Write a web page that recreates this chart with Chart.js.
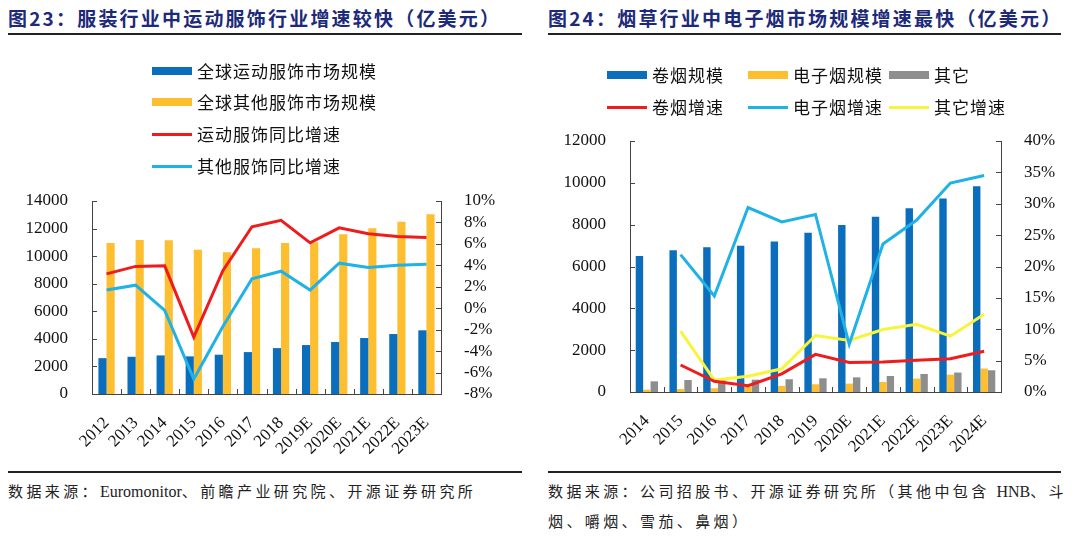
<!DOCTYPE html>
<html>
<head>
<meta charset="utf-8">
<script src="https://cdn.jsdelivr.net/npm/chart.js@4.4.1/dist/chart.umd.min.js"></script>
<style>
  body { margin: 0; width: 1080px; height: 541px; background: #fff; position: relative; overflow: hidden;
         font-family: 'Noto Sans CJK SC', sans-serif; }
  .title { position: absolute; top: 6px; font-size: 19px; font-weight: bold; color: #1d2a7a;
           letter-spacing: 2.2px; white-space: nowrap; line-height: 24px; }
  .rule { position: absolute; height: 2px; background: #222; }
  .src { position: absolute; font-size: 15px; color: #222; letter-spacing: 3.4px; white-space: nowrap; line-height: 20px; }
  .src b { font-weight: normal; font-family: 'Liberation Serif', serif; font-size: 16px; letter-spacing: 0; }
  canvas { position: absolute; top: 0; }
  .leg { position: absolute; font-size: 17px; color: #111; white-space: nowrap; line-height: 20px; letter-spacing: 1px; }
  .leg i { position: absolute; left: 0; width: 40px; }
  .leg span { padding-left: 45px; }
</style>
</head>
<body>

<div class="title" style="left:8px">图23：服装行业中运动服饰行业增速较快（亿美元）</div>
<div class="rule" style="left:8px;width:514px;top:33px"></div>
<div class="title" style="left:548px">图24：烟草行业中电子烟市场规模增速最快（亿美元）</div>
<div class="rule" style="left:548px;width:513px;top:33px"></div>

<canvas id="apparel" width="540" height="470" style="left:0"></canvas>
<canvas id="tobacco" width="540" height="470" style="left:540px"></canvas>

<div class="rule" style="left:8px;width:514px;top:471px"></div>
<div class="rule" style="left:548px;width:513px;top:471px"></div>
<div class="src" style="left:8px;top:481px">数据来源：<b>Euromonitor</b>、前瞻产业研究院、开源证券研究所</div>
<div class="src" style="left:548px;top:481px">数据来源：公司招股书、开源证券研究所（其他中包含 <b>HNB</b>、斗</div>
<div class="src" style="left:548px;top:511px">烟、嚼烟、雪茄、鼻烟）</div>

<script>
// ---- 图23 data ----
var years1 = ['2012', '2013', '2014', '2015', '2016', '2017', '2018', '2019E', '2020E', '2021E', '2022E', '2023E'];
var sportSize = [2600, 2700, 2800, 2730, 2850, 3040, 3330, 3550, 3770, 4060, 4350, 4620];
var otherSize = [10950, 11180, 11160, 10460, 10290, 10580, 10960, 11000, 11590, 12030, 12490, 13040];
var sportGrowth = [3.2, 3.9, 3.95, -2.7, 3.5, 7.6, 8.2, 6.1, 7.5, 6.95, 6.7, 6.6];
var otherGrowth = [1.7, 2.15, -0.2, -6.6, -1.7, 2.75, 3.45, 1.7, 4.2, 3.8, 4.0, 4.1];

// ---- 图24 data ----
var years2 = ['2014', '2015', '2016', '2017', '2018', '2019', '2020E', '2021E', '2022E', '2023E', '2024E'];
var cigSize = [6500, 6780, 6920, 6990, 7200, 7610, 7980, 8380, 8790, 9250, 9840];
var ecigSize = [110, 140, 180, 250, 290, 370, 400, 480, 640, 830, 1120];
var restSize = [510, 575, 580, 590, 610, 655, 700, 765, 860, 930, 1040];
var cigGrowth = [null, 4.3, 1.7, 1.0, 2.9, 6.0, 4.7, 4.8, 5.05, 5.3, 6.5];
var ecigGrowth = [null, 21.9, 15.3, 29.4, 27.1, 28.3, 7.6, 23.6, 27.4, 33.3, 34.5];
var restGrowth = [null, 9.7, 1.9, 2.5, 3.7, 9.0, 8.2, 9.95, 10.8, 8.9, 12.4];

var BLUE = '#0a6ebd', ORANGE = '#fdbe30', GRAY = '#8e8e8e';
var RED = '#ee1c1c', CYAN = '#1fb2e6', YELLOW = '#f7f43a';
var AXIS = '#444';
var SERIF = 'Liberation Serif, DejaVu Serif, serif';
var tickFont = { family: SERIF, size: 17 };

// short tick marks pointing into the plot
var innerTicks = {
	id: 'innerTicks',
	afterDraw: function (chart) {
		var ctx = chart.ctx, a = chart.chartArea;
		ctx.save();
		ctx.strokeStyle = AXIS;
		ctx.lineWidth = 1;
		ctx.beginPath();
		var y = chart.scales.y, y1 = chart.scales.y1, x = chart.scales.x;
		y.ticks.forEach(function (t, i) {
			var p = Math.round(y.getPixelForTick(i)) + 0.5;
			ctx.moveTo(a.left, p); ctx.lineTo(a.left + 5, p);
		});
		y1.ticks.forEach(function (t, i) {
			var p = Math.round(y1.getPixelForTick(i)) + 0.5;
			ctx.moveTo(a.right - 5, p); ctx.lineTo(a.right, p);
		});
		var n = x.ticks.length, step = (x.right - x.left) / n;
		for (var i = 0; i <= n; i++) {
			var px = Math.round(x.left + i * step) + 0.5;
			ctx.moveTo(px, a.bottom); ctx.lineTo(px, a.bottom - 5);
		}
		ctx.stroke();
		ctx.restore();
	}
};

function scalesFor(leftW, rightW, bottomH, yMax, yStep, y1Min, y1Max, y1Step) {
	return {
		x: {
			grid: { display: false },
			border: { display: true, color: AXIS, width: 1 },
			ticks: { font: { family: SERIF, size: 17 }, color: '#111', minRotation: 45, maxRotation: 45, padding: 11, autoSkip: false },
			afterFit: function (s) { s.height = bottomH; }
		},
		y: {
			position: 'left', min: 0, max: yMax,
			grid: { display: false },
			border: { display: true, color: AXIS, width: 1 },
			ticks: { stepSize: yStep, font: tickFont, color: '#111', padding: 16, autoSkip: false,
				callback: function (v) { return String(v); } },
			afterFit: function (s) { s.width = leftW; }
		},
		y1: {
			position: 'right', min: y1Min, max: y1Max,
			grid: { display: false },
			border: { display: true, color: AXIS, width: 1 },
			ticks: { stepSize: y1Step, font: tickFont, color: '#111', padding: 15, autoSkip: false,
				callback: function (v) { return v + '%'; } },
			afterFit: function (s) { s.width = rightW; }
		}
	};
}

function barSet(label, data, color, pct) {
	return { type: 'bar', label: label, data: data, backgroundColor: color, yAxisID: 'y', order: 2,
		categoryPercentage: pct, barPercentage: 1.0 };
}
function lineSet(label, data, color) {
	return { type: 'line', label: label, data: data, borderColor: color, backgroundColor: color,
		borderWidth: 3, pointRadius: 0, tension: 0, yAxisID: 'y1', order: 1 };
}

// legend drawn as html text, built from the chart's datasets
function buildLegend(chart, offsetX, slots) {
	chart.data.datasets.forEach(function (ds, i) {
		var el = document.createElement('div');
		el.className = 'leg';
		el.style.left = (offsetX + slots[i][0]) + 'px';
		el.style.top = (slots[i][1] - 10) + 'px';
		var mark = document.createElement('i');
		var h = ds.type === 'line' ? 3 : 8;
		mark.style.height = h + 'px';
		mark.style.top = (10 - h / 2) + 'px';
		mark.style.background = ds.type === 'line' ? ds.borderColor : ds.backgroundColor;
		var txt = document.createElement('span');
		txt.textContent = ds.label;
		el.appendChild(mark);
		el.appendChild(txt);
		document.body.appendChild(el);
	});
}

var chart1 = new Chart(document.getElementById('apparel').getContext('2d'), {
	data: {
		labels: years1,
		datasets: [
			barSet('全球运动服饰市场规模', sportSize, BLUE, 0.56),
			barSet('全球其他服饰市场规模', otherSize, ORANGE, 0.56),
			lineSet('运动服饰同比增速', sportGrowth, RED),
			lineSet('其他服饰同比增速', otherGrowth, CYAN)
		]
	},
	options: {
		responsive: false, animation: false, devicePixelRatio: 1,
		layout: { padding: { top: 201, left: 0, right: 0, bottom: 0 } },
		plugins: { legend: { display: false }, tooltip: { enabled: false } },
		scales: scalesFor(92, 99, 76, 14000, 2000, -8, 10, 2)
	},
	plugins: [innerTicks]
});

var chart2 = new Chart(document.getElementById('tobacco').getContext('2d'), {
	data: {
		labels: years2,
		datasets: [
			barSet('卷烟规模', cigSize, BLUE, 0.66),
			barSet('电子烟规模', ecigSize, ORANGE, 0.66),
			barSet('其它', restSize, GRAY, 0.66),
			lineSet('卷烟增速', cigGrowth, RED),
			lineSet('电子烟增速', ecigGrowth, CYAN),
			lineSet('其它增速', restGrowth, YELLOW)
		]
	},
	options: {
		responsive: false, animation: false, devicePixelRatio: 1,
		layout: { padding: { top: 141, left: 0, right: 0, bottom: 0 } },
		plugins: { legend: { display: false }, tooltip: { enabled: false } },
		scales: scalesFor(90, 79, 78, 12000, 2000, 0, 40, 5)
	},
	plugins: [innerTicks]
});

buildLegend(chart1, 0, [[152, 71], [152, 102], [152, 134], [152, 166]]);
buildLegend(chart2, 540, [[67, 75], [208, 75], [349, 75], [67, 107], [208, 107], [349, 107]]);
</script>
</body>
</html>
